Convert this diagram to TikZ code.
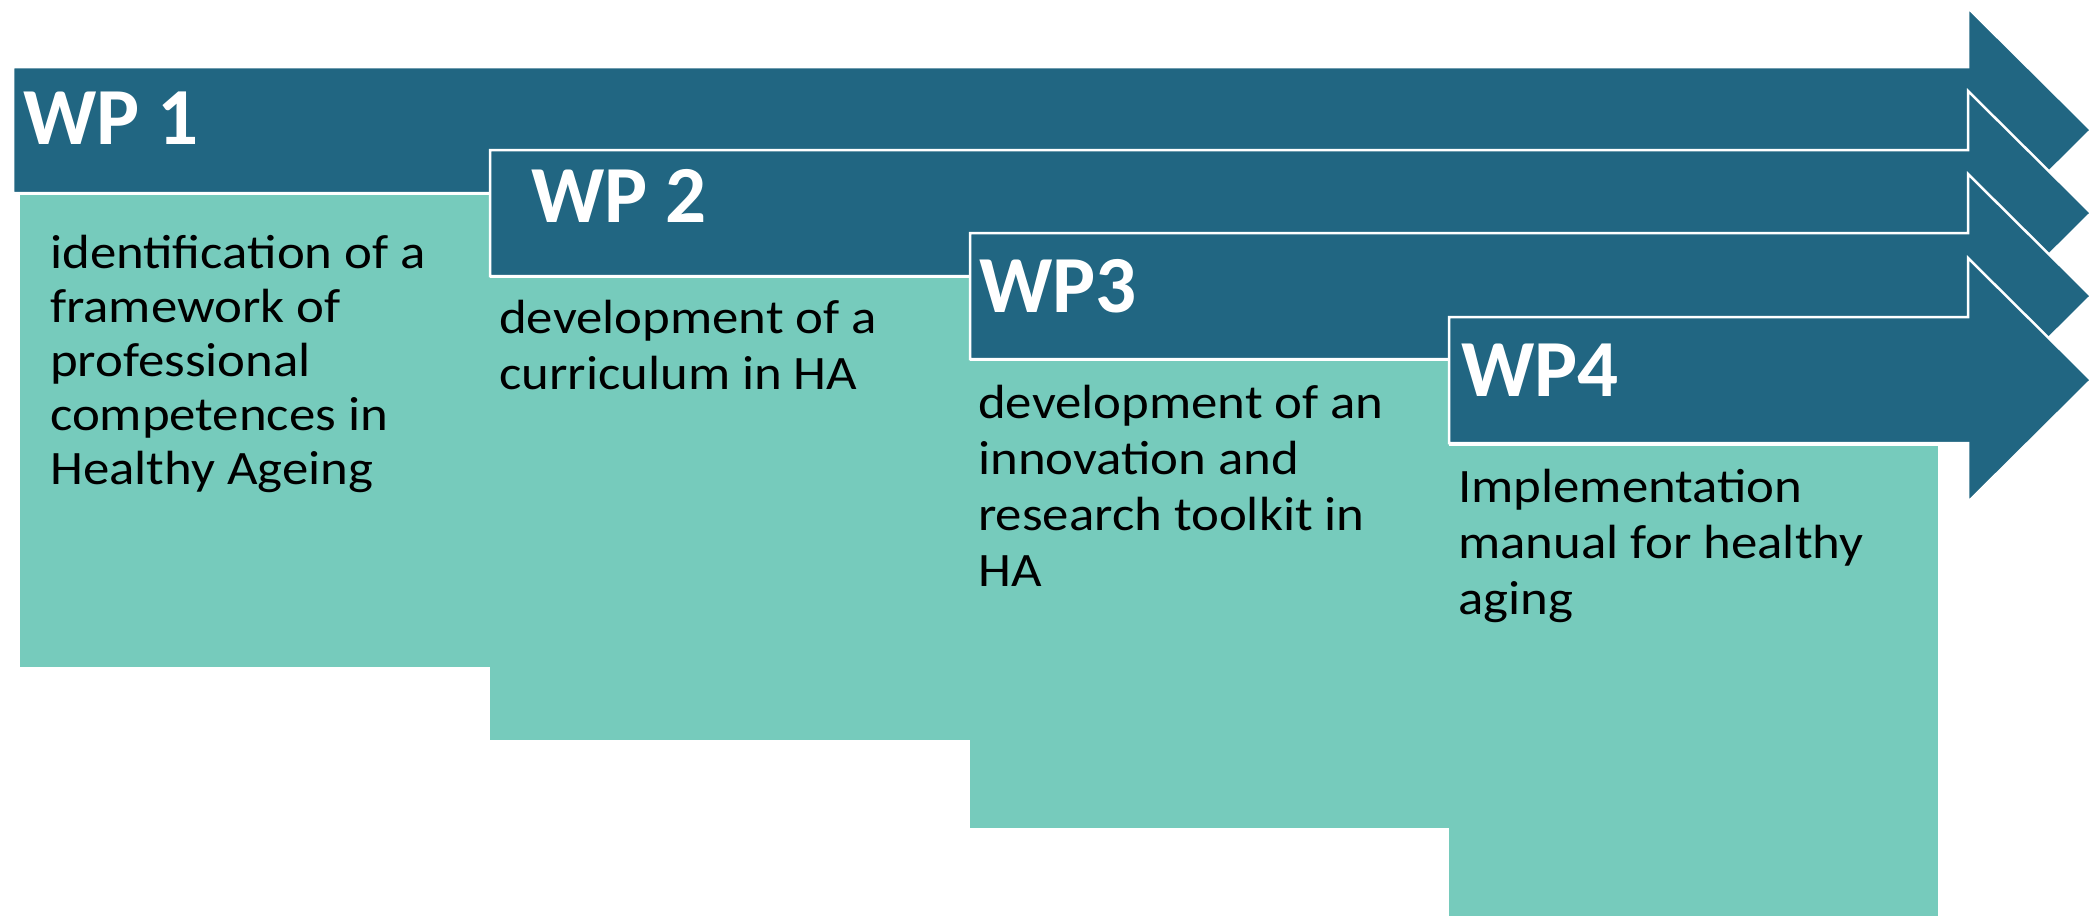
\documentclass[tikz,border=0pt]{standalone}
\usepackage{fontspec}
\setmainfont{Carlito}
\newfontfamily\wpbody[FakeStretch=1.1]{Carlito}
\definecolor{wpblue}{HTML}{216682}
\definecolor{wpgreen}{HTML}{76CBBC}
\tikzstyle{wparrow} = [fill=wpblue, draw=white, line width=2.5pt, line join=miter]
\tikzstyle{wpbox} = [fill=wpgreen]
\tikzstyle{wplabel} = [anchor=base west, inner sep=0pt, text=white, font=\fontsize{81}{81}\selectfont\bfseries]
% base of the last line
\tikzstyle{wptext} = [anchor=base west, inner sep=0pt, align=left, font=\wpbody\fontsize{48}{56}\selectfont]
% arrow: left end, top of the shaft
\newcommand{\wpshaft}[2]{\draw[wparrow] (#1,#2) -- (1968,#2) -- (1968,#2-59) -- (2091,#2+63) -- (1968,#2+185) -- (1968,#2+126) -- (#1,#2+126) -- cycle;}

\begin{document}
\begin{tikzpicture}[x=1pt,y=-1pt]%
	\useasboundingbox (0,0) rectangle (2098,916);%
	\foreach \l/\t/\bl/\bt/\br/\bb in {13/67/20/195/490/667, 490/150/490/278/970/740, 970/233/970/361/1449/828, 1449/317/1449/446/1938/916}{%
		\wpshaft{\l}{\t}%
		\fill[wpbox] (\bl,\bt) rectangle (\br,\bb);%
	}%
	\node[wplabel] (wp1) at (23,144) {WP 1};%
	\node[wplabel] (wp2) at (531,222) {WP 2};%
	\node[wplabel] (wp3) at (979,312) {WP3};%
	\node[wplabel] (wp4) at (1461,396) {WP4};%
	\node[wptext, font=\wpbody\fontsize{48}{54}\selectfont] (wp1text) at (50,484) {identification of a\\framework of\\professional\\competences in\\Healthy Ageing};%
	\node[wptext] (wp2text) at (499,389) {development of a\\curriculum in HA};%
	\node[wptext] (wp3text) at (978,586) {development of an\\innovation and\\research toolkit in\\HA};%
	\node[wptext] (wp4text) at (1458,614) {Implementation\\manual for healthy\\aging};%
\end{tikzpicture}
\end{document}
